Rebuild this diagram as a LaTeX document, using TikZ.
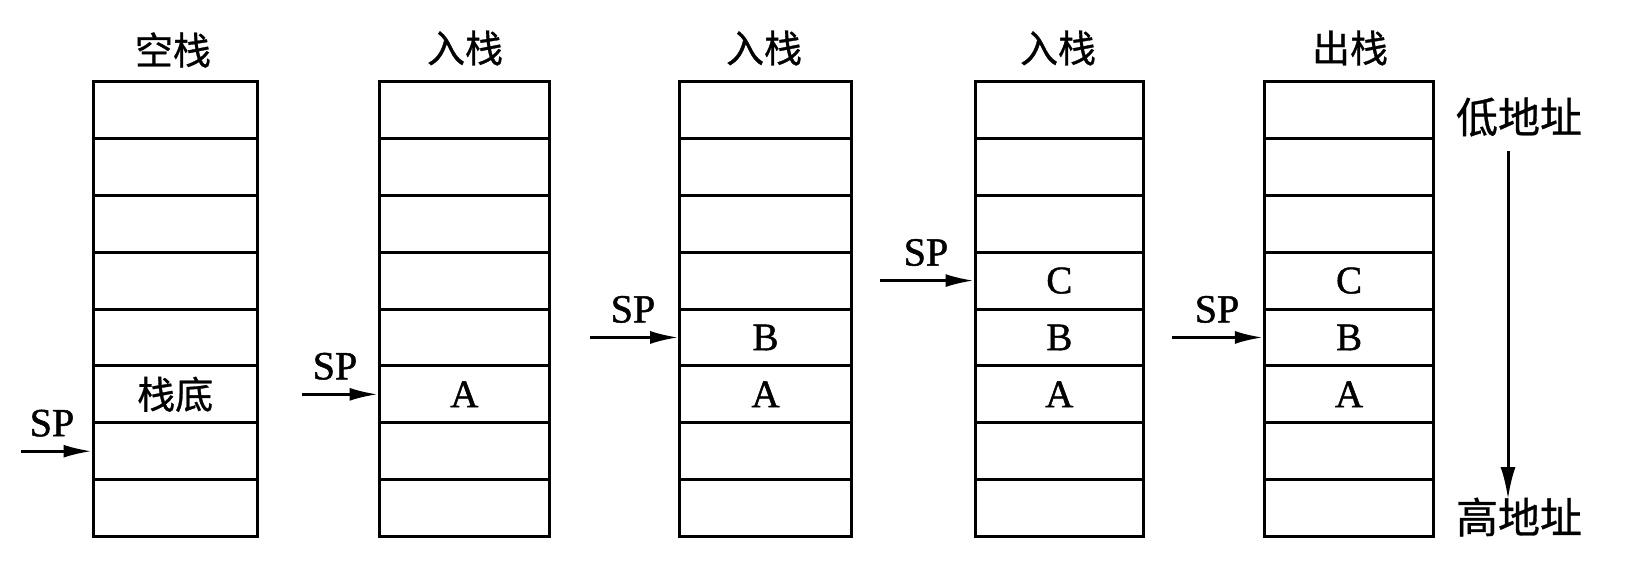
\documentclass[tikz,border=0pt]{standalone}
\usepackage{fontspec}
\setmainfont[FakeBold=1.2]{Liberation Serif}
\newfontfamily\cjk[FakeBold=0.8]{Noto Sans CJK SC}
\usetikzlibrary{arrows.meta,calc}
\begin{document}
\begin{tikzpicture}[x=0.5pt,y=-0.5pt,
  cell/.style={draw, line width=1.5pt, minimum height=28.44pt, inner sep=0pt, anchor=north west},
  ttl/.style={font=\cjk\fontsize{19pt}{19pt}\selectfont, inner sep=0pt},
  txt/.style={font=\fontsize{19.5pt}{19.5pt}\selectfont, inner sep=0pt},
  cjktxt/.style={font=\cjk\fontsize{19pt}{19pt}\selectfont, inner sep=0pt},
  sptxt/.style={font=\fontsize{20pt}{20pt}\selectfont, inner sep=0pt, anchor=base},
  addr/.style={font=\cjk\fontsize{21pt}{21pt}\selectfont, inner sep=0pt},
  sparrow/.style={line width=1.3pt, -{Latex[length=14pt,width=6.5pt]}},
  bigarrow/.style={line width=1.5pt, -{Latex[length=16pt,width=7.5pt]}}]
\useasboundingbox (0,0) rectangle (1631,575);
% stacks
\foreach \n/\x/\w in {1/91.5/164.4, 2/377.6/170.6, 3/678.2/171.6, 4/973.6/168.5, 5/1262.8/169.6}{
  \foreach \r in {1,...,8}{
    \node[cell, minimum width={\w*0.5pt}] (s\n r\r) at (\x,{80+(\r-1)*56.875}) {};
  }
}
% titles
\node[ttl] (t1) at (173,50) {空栈};
\node[ttl] (t2) at (465,48) {入栈};
\node[ttl] (t3) at (764,48) {入栈};
\node[ttl] (t4) at (1058,48) {入栈};
\node[ttl] (t5) at (1350,48) {出栈};
% contents
\node[cjktxt] (c1) at (s1r6) {栈底};
\node[txt] (c2a) at (s2r6) {A};
\node[txt] (c3b) at (s3r5) {B};
\node[txt] (c3a) at (s3r6) {A};
\node[txt] (c4c) at (s4r4) {C};
\node[txt] (c4b) at (s4r5) {B};
\node[txt] (c4a) at (s4r6) {A};
\node[txt] (c5c) at (s5r4) {C};
\node[txt] (c5b) at (s5r5) {B};
\node[txt] (c5a) at (s5r6) {A};
% SP pointers
\coordinate (p1) at (s1r7.west -| 21,0);
\coordinate (p2) at (s2r6.west -| 302,0);
\coordinate (p3) at (s3r5.west -| 590,0);
\coordinate (p4) at (s4r4.west -| 880,0);
\coordinate (p5) at (s5r5.west -| 1172,0);
\draw[sparrow] (p1) -- (s1r7.west);
\draw[sparrow] (p2) -- (s2r6.west);
\draw[sparrow] (p3) -- (s3r5.west);
\draw[sparrow] (p4) -- (s4r4.west);
\draw[sparrow] (p5) -- (s5r5.west);
\node[sptxt] (sp1) at ($(p1)+(31,-15)$) {SP};
\node[sptxt] (sp2) at ($(p2)+(33,-15)$) {SP};
\node[sptxt] (sp3) at ($(p3)+(43,-15)$) {SP};
\node[sptxt] (sp4) at ($(p4)+(46,-15)$) {SP};
\node[sptxt] (sp5) at ($(p5)+(45,-15)$) {SP};
% address direction
\node[addr] (lo) at (1519,117) {低地址};
\node[addr] (hi) at (1519,517) {高地址};
\coordinate (a1) at (1508,151);
\coordinate (a2) at (1508,499);
\draw[bigarrow] (a1) -- (a2);
\end{tikzpicture}
\end{document}
